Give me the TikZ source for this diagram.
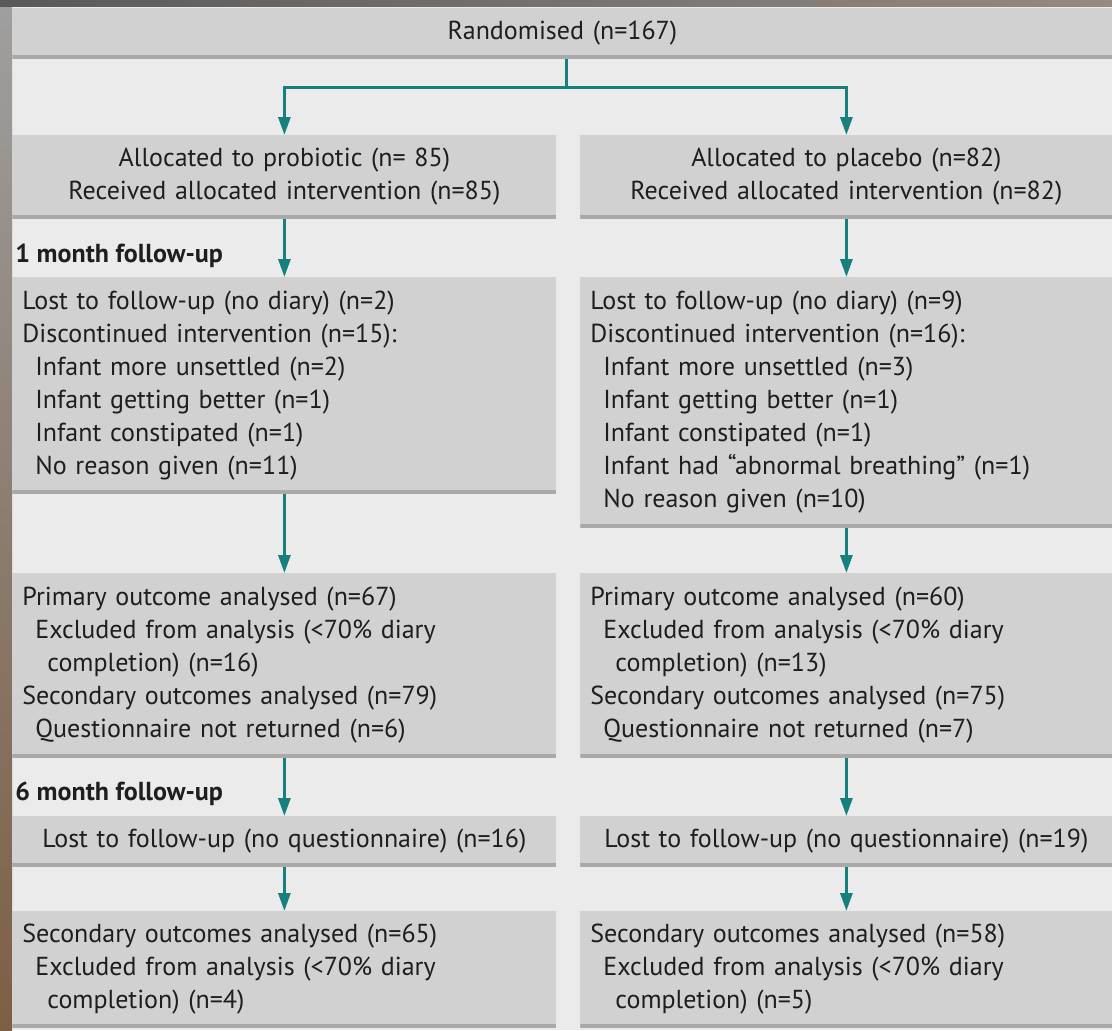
\documentclass[tikz,border=0pt]{standalone}
\usepackage{fontspec}
\setmainfont{PT Sans}
\usetikzlibrary{arrows.meta}
\definecolor{panel}{HTML}{EBEBEB}
\definecolor{boxgray}{HTML}{D1D1D1}
\definecolor{boxedge}{HTML}{A9A9A9}
\definecolor{teal}{HTML}{17807F}
\definecolor{txt}{HTML}{1E1E1E}
\newcommand\boxfont{\fontsize{13}{16.5}\selectfont}
\newcommand\ind{\hspace*{6.5pt}}
\newcommand\indd{\hspace*{12.5pt}}
\tikzset{
  box/.style={rectangle, fill=boxgray, anchor=north west, inner xsep=5pt, inner ysep=0pt,
    font=\boxfont, text=txt,
    path picture={\draw[boxedge, line width=3pt] (path picture bounding box.south west) -- (path picture bounding box.south east);}},
  lbox/.style={box, minimum width=272pt, text width=262pt},
  rbox/.style={box, minimum width=266pt, text width=256pt},
  head/.style={anchor=base west, inner sep=0pt, font=\boxfont\bfseries, text=txt},
  tline/.style={draw=teal, line width=1.5pt},
  arr/.style={tline, -{Triangle[width=6pt,length=9pt]}},
}
\begin{document}
\begin{tikzpicture}[x=0.5pt,y=-0.5pt]
\useasboundingbox (0,0) rectangle (1112,1030);
% backdrop
\fill[panel] (0,0) rectangle (1112,1030);
\shade[top color=gray!75, bottom color={rgb,255:red,125;green,95;blue,68}, middle color={rgb,255:red,140;green,125;blue,112}] (0,0) rectangle (12,1030);
\shade[left color=black!65, right color={rgb,255:red,150;green,138;blue,130}] (0,0) rectangle (1112,6);

% boxes
\node[box, minimum width=550pt, text width=540pt, align=center, minimum height=25pt] (rand) at (12,8) {Randomised (n=167)};

\node[lbox, align=center, minimum height=41.5pt] (prob) at (12,135)
  {Allocated to probiotic (n= 85)\\Received allocated intervention (n=85)};
\node[rbox, align=center, minimum height=41.5pt] (plac) at (580,135)
  {Allocated to placebo (n=82)\\Received allocated intervention (n=82)};

\node[head] (h1) at (15,262) {1 month follow-up};

\node[lbox, align=left, minimum height=108pt] (l1) at (12,277)
  {Lost to follow-up (no diary) (n=2)\\
   Discontinued intervention (n=15):\\
   \ind Infant more unsettled (n=2)\\
   \ind Infant getting better (n=1)\\
   \ind Infant constipated (n=1)\\
   \ind No reason given (n=11)};
\node[rbox, align=left, minimum height=125pt] (r1) at (580,277)
  {Lost to follow-up (no diary) (n=9)\\
   Discontinued intervention (n=16):\\
   \ind Infant more unsettled (n=3)\\
   \ind Infant getting better (n=1)\\
   \ind Infant constipated (n=1)\\
   \ind Infant had “abnormal breathing” (n=1)\\
   \ind No reason given (n=10)};

\node[lbox, align=left, minimum height=92pt] (l2) at (12,573)
  {Primary outcome analysed (n=67)\\
   \ind Excluded from analysis (<70\% diary\\
   \indd completion) (n=16)\\
   Secondary outcomes analysed (n=79)\\
   \ind Questionnaire not returned (n=6)};
\node[rbox, align=left, minimum height=92pt] (r2) at (580,573)
  {Primary outcome analysed (n=60)\\
   \ind Excluded from analysis (<70\% diary\\
   \indd completion) (n=13)\\
   Secondary outcomes analysed (n=75)\\
   \ind Questionnaire not returned (n=7)};

\node[head] (h6) at (15,800) {6 month follow-up};

\node[lbox, align=center, minimum height=25pt] (l3) at (12,816)
  {Lost to follow-up (no questionnaire) (n=16)};
\node[rbox, align=center, minimum height=25pt] (r3) at (580,816)
  {Lost to follow-up (no questionnaire) (n=19)};

\node[lbox, align=left, minimum height=58pt] (l4) at (12,911)
  {Secondary outcomes analysed (n=65)\\
   \ind Excluded from analysis (<70\% diary\\
   \indd completion) (n=4)};
\node[rbox, align=left, minimum height=58pt] (r4) at (580,911)
  {Secondary outcomes analysed (n=58)\\
   \ind Excluded from analysis (<70\% diary\\
   \indd completion) (n=5)};

% connectors
\coordinate (split) at (566,87);
\draw[tline] (rand.south -| split) -- (split);
\draw[arr] (split) -| (prob.north);
\draw[arr] (split) -| (plac.north);
\draw[arr] (prob) -- (l1);
\draw[arr] (plac) -- (r1);
\draw[arr] (l1) -- (l2);
\draw[arr] (r1) -- (r2);
\draw[arr] (l2) -- (l3);
\draw[arr] (r2) -- (r3);
\draw[arr] (l3) -- (l4);
\draw[arr] (r3) -- (r4);
\end{tikzpicture}
\end{document}
